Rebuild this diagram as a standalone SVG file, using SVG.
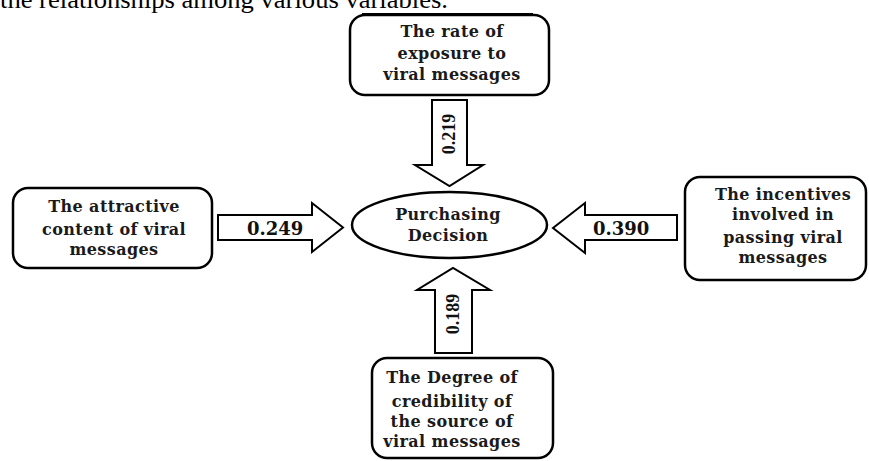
<svg xmlns="http://www.w3.org/2000/svg" width="869" height="461" viewBox="0 0 869 461">
<style>
.box{fill:#fff;stroke:#000;stroke-width:2.5}
.arr{fill:#fff;stroke:#000;stroke-width:2}
.t{font-family:"DejaVu Serif","Liberation Serif",serif;font-weight:bold;font-size:16px;letter-spacing:0.4px;fill:#1a1a1a;text-anchor:middle}
.h{font-family:"DejaVu Serif","Liberation Serif",serif;font-weight:bold;font-size:18px;fill:#111}
.v{font-family:"Liberation Serif",serif;font-weight:bold;font-size:18px;fill:#111;text-anchor:middle}
.cap{font-family:"Liberation Serif",serif;font-size:25px;fill:#000}
</style>
<rect width="869" height="461" fill="#fff"/>
<text class="cap" x="0" y="8" textLength="448" lengthAdjust="spacingAndGlyphs">the relationships among various variables.</text>

<g id="connectors">
  <g id="arrow-top">
    <polygon class="arr" points="432,100 467,100 467,165 483,165 449.5,186 415,165 432,165"/>
    <text class="v" transform="translate(455,134) rotate(-90)">0.219</text>
  </g>
  <g id="arrow-left">
    <polygon class="arr" points="218,215 312,215 312,203 343,227.5 312,252 312,240 218,240"/>
    <text class="h" x="247" y="234.5">0.249</text>
  </g>
  <g id="arrow-right">
    <polygon class="arr" points="677,215 585,215 585,203 553,228 585,253 585,240 677,240"/>
    <text class="h" x="593" y="234.5">0.390</text>
  </g>
  <g id="arrow-bottom">
    <polygon class="arr" points="435,353 472,353 472,290 490,290 453,268 417,290 435,290"/>
    <text class="v" transform="translate(459,314) rotate(-90)">0.189</text>
  </g>
</g>

<g id="node-top">
  <rect class="box" x="350" y="15" width="199" height="80" rx="15"/>
  <line x1="362" y1="14.5" x2="533" y2="14.5" stroke="#000" stroke-width="3"/>
  <text class="t" x="452" y="37">The rate of</text>
  <text class="t" x="452" y="58.5">exposure to</text>
  <text class="t" x="452" y="80">viral messages</text>
</g>

<g id="node-left">
  <rect class="box" x="13" y="188" width="199" height="80" rx="15"/>
  <text class="t" x="114" y="212">The attractive</text>
  <text class="t" x="114" y="235">content of viral</text>
  <text class="t" x="114" y="255">messages</text>
</g>

<g id="node-center">
  <ellipse cx="449.5" cy="225" rx="97.5" ry="33" fill="#fff" stroke="#000" stroke-width="2.5"/>
  <text class="t" x="448" y="220">Purchasing</text>
  <text class="t" x="448" y="241">Decision</text>
</g>

<g id="node-right">
  <rect class="box" x="685" y="177" width="181" height="103" rx="15"/>
  <text class="t" x="783" y="200">The incentives</text>
  <text class="t" x="783" y="220">involved in</text>
  <text class="t" x="783" y="243">passing viral</text>
  <text class="t" x="783" y="263">messages</text>
</g>

<g id="node-bottom">
  <rect class="box" x="372" y="358" width="181" height="100" rx="15"/>
  <text class="t" x="452" y="383">The Degree of</text>
  <text class="t" x="452" y="407">credibility of</text>
  <text class="t" x="452" y="427">the source of</text>
  <text class="t" x="452" y="447">viral messages</text>
</g>
</svg>
